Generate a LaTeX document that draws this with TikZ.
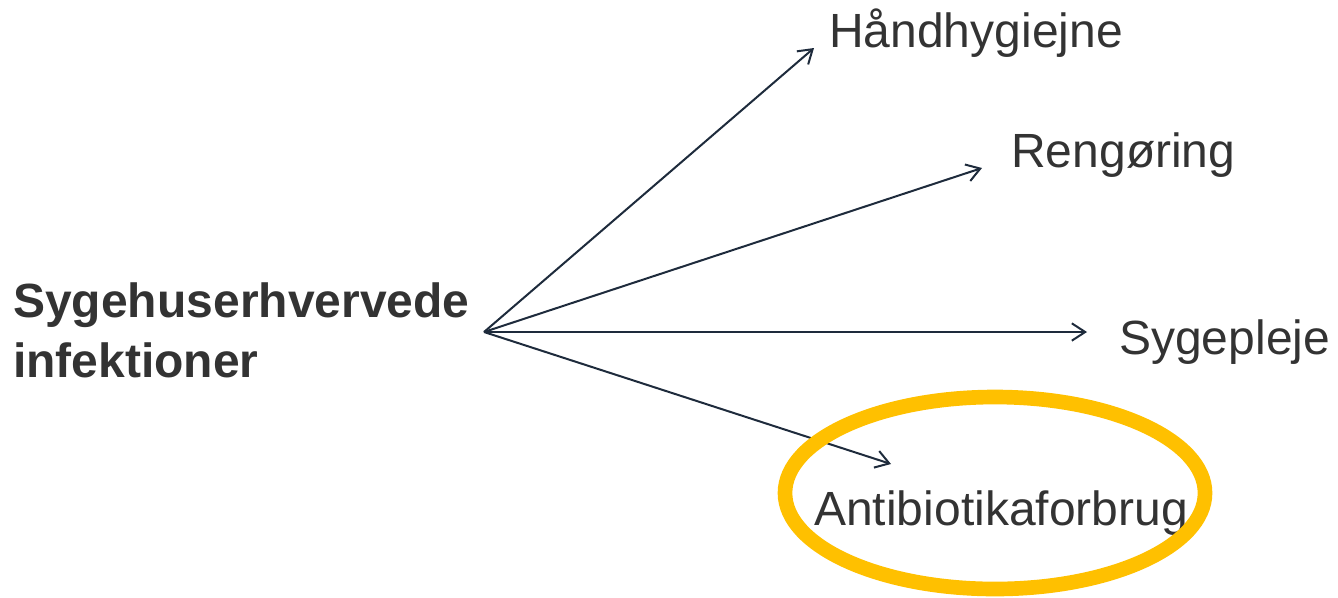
\documentclass[tikz,border=0pt]{standalone}
\usepackage{fontspec}
\setmainfont{Liberation Sans}
\usetikzlibrary{arrows.meta}
\definecolor{txtgray}{HTML}{333333}
\definecolor{arrnavy}{HTML}{1E2B3C}
\definecolor{hlgold}{HTML}{FFC000}
\begin{document}
\begin{tikzpicture}[x=0.75pt,y=-0.75pt,every node/.style={inner sep=0pt,anchor=base west,text=txtgray,font=\fontsize{36}{46}\selectfont},>={Straight Barb[length=10pt,width=13pt,line width=1.5pt]}]
\useasboundingbox (0,0) rectangle (1338,597);
\node[font=\fontsize{36}{45}\selectfont\bfseries,align=left] (shi) at (13,377) {Sygehuserhvervede\\infektioner};
\node (hand) at (829,47) {Håndhygiejne};
\node (reng) at (1011,167) {Rengøring};
\node (pleje) at (1119,354) {Sygepleje};
\node (anti) at (814,525) {Antibiotikaforbrug};
\coordinate (src) at (484,332);
\coordinate (t1) at (814,48); \coordinate (t2) at (982,168);
\coordinate (t3) at (1087,332); \coordinate (t4) at (891,464);
\draw[->,arrnavy,line width=1.5pt] (src) -- (t1);
\draw[->,arrnavy,line width=1.5pt] (src) -- (t2);
\draw[->,arrnavy,line width=1.5pt] (src) -- (t3);
\draw[->,arrnavy,line width=1.5pt] (src) -- (t4);
\coordinate (ring) at (995,493);
\draw[hlgold,line width=11pt] (ring) ellipse [x radius=210,y radius=96];
\end{tikzpicture}
\end{document}
